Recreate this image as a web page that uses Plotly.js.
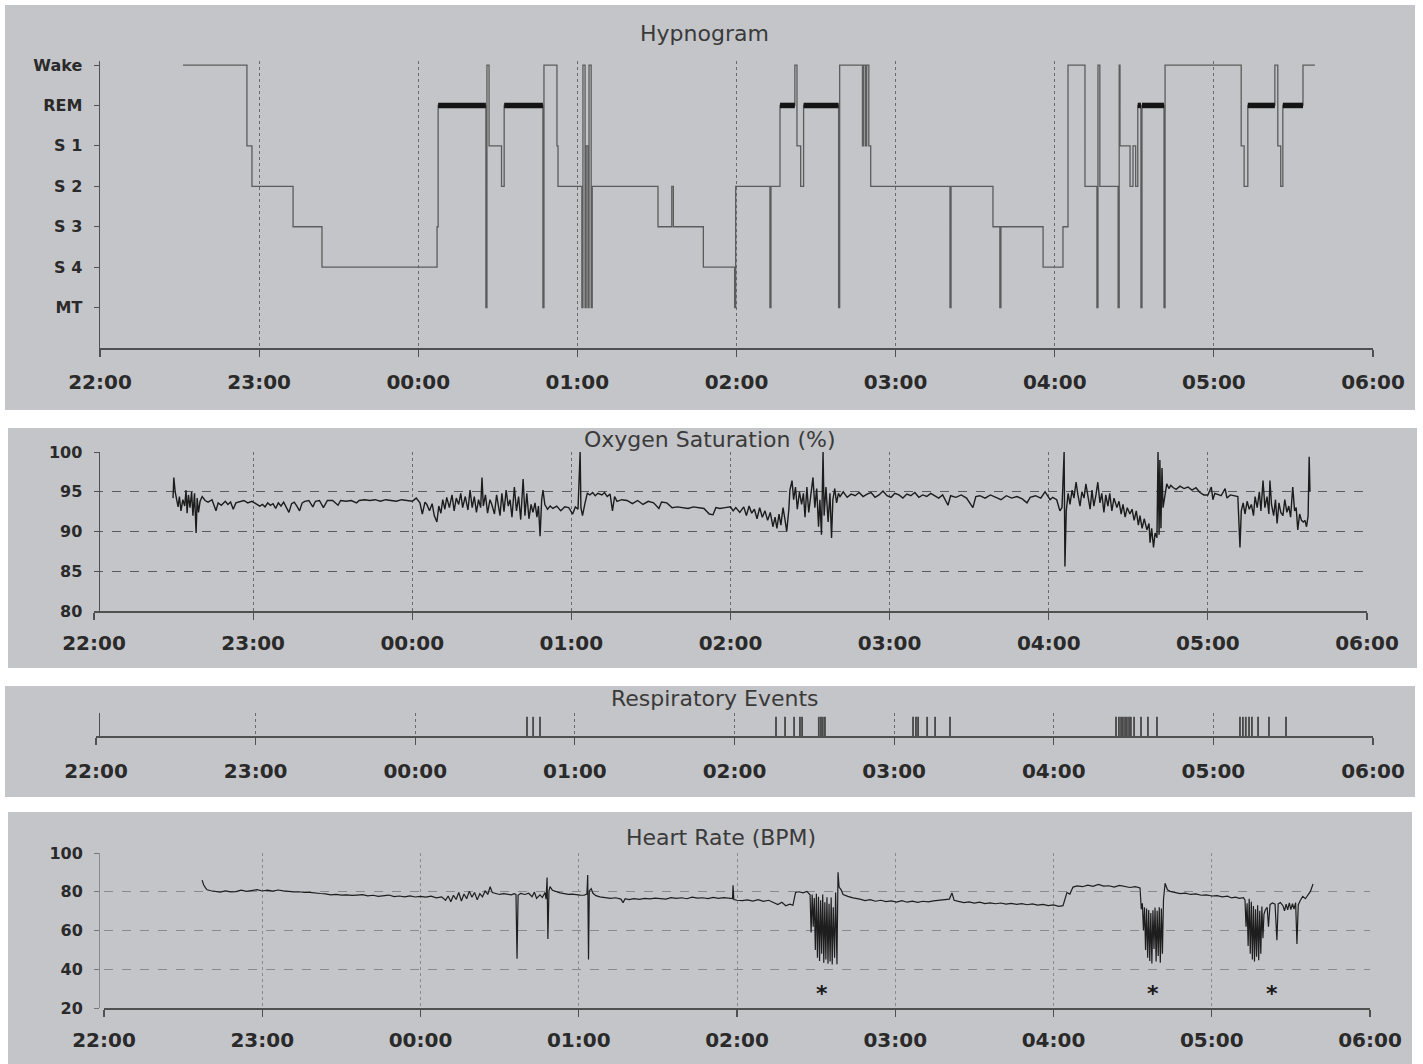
<!DOCTYPE html>
<html><head><meta charset="utf-8">
<script src="https://cdn.plot.ly/plotly-3.0.1.min.js"></script>
<style>html,body{margin:0;padding:0;background:#fff}#chart{width:1423px;height:1064px}</style>
</head><body><div id="chart"></div>
<script>
// ---------- data (time in minutes after 22:00) ----------
const hourTicks = [0,60,120,180,240,300,360,420,480];
const hourLabels = ["22:00","23:00","00:00","01:00","02:00","03:00","04:00","05:00","06:00"];

const stageLabels = ["MT","S 4","S 3","S 2","S 1","REM","Wake"];

const hypnoTime = [31.3,55.4,57.3,72.8,83.7,127.1,127.5,145.5,145.9,146.7,151.4,152.4,167.0,167.4,172.3,172.7,181.7,182.1,182.9,183.3,184.0,184.4,185.2,185.6,210.4,215.6,216.2,227.5,239.3,239.7,252.6,253.0,256.4,262.0,262.8,264.2,265.3,278.5,278.9,287.5,288.0,288.7,289.1,289.9,290.6,320.5,320.9,336.7,339.3,339.7,355.6,363.1,365.0,371.4,375.9,376.3,377.0,383.9,384.3,384.6,388.4,389.5,390.5,391.3,392.5,392.9,401.2,401.6,430.3,431.4,432.8,443.0,444.1,445.2,446.0,453.6,458.1];
const hypnoStage = ["Wake","S 1","S 2","S 3","S 4","S 3","REM","MT","Wake","S 1","S 2","REM","MT","Wake","S 1","S 2","MT","Wake","MT","S 1","MT","Wake","MT","S 2","S 3","S 2","S 3","S 4","MT","S 2","MT","S 2","REM","Wake","S 1","S 2","REM","MT","Wake","S 1","Wake","S 1","Wake","S 1","S 2","MT","S 2","S 3","MT","S 3","S 4","S 3","Wake","S 2","MT","Wake","S 2","MT","Wake","S 1","S 2","S 1","S 2","REM","MT","REM","MT","Wake","S 1","S 2","REM","Wake","S 1","S 2","REM","Wake","Wake"];

const spo2Readings = [[29.8,94.2],[30.1,96.8],[30.6,95.0],[31.2,94.0],[31.7,93.1],[32.2,94.4],[32.8,92.6],[33.5,94.0],[34.2,93.2],[34.7,95.2],[35.1,92.3],[35.6,94.6],[36.2,93.0],[36.8,95.0],[37.3,92.0],[37.9,94.8],[38.5,89.8],[38.9,94.2],[39.4,92.4],[40.0,93.8],[40.8,94.4],[41.9,93.9],[43.0,93.7],[44.5,94.0],[45.5,93.2],[46.0,92.6],[46.8,93.6],[48.0,93.3],[49.5,93.8],[50.5,93.4],[51.5,93.7],[52.5,92.8],[53.5,93.6],[55.0,93.8],[56.5,93.9],[58.0,93.6],[59.5,93.8],[61.0,93.5],[62.5,93.2],[63.5,93.4],[64.5,93.1],[65.5,93.6],[66.5,93.3],[67.5,93.5],[68.5,92.9],[69.5,93.6],[70.5,93.2],[71.5,93.7],[72.5,93.1],[73.5,92.4],[74.5,93.5],[75.5,93.7],[76.5,93.2],[77.5,92.6],[78.5,93.6],[79.5,93.8],[81,93.9],[82.5,93.1],[83.5,93.8],[85,93.9],[86.5,93.0],[88,93.9],[90,93.9],[92,93.3],[93,93.9],[95,93.8],[97,93.9],[99,93.6],[100,93.9],[102,94.0],[104,93.9],[106,94.0],[108,93.8],[110,94.0],[112,93.9],[114,93.8],[116,94.0],[118,93.9],[120,93.8],[121.5,94.2],[122.9,93.6],[123.8,92.2],[124.8,93.7],[125.5,93.4],[126.5,92.6],[127.5,93.5],[128.3,92.0],[129.3,91.2],[130.0,93.2],[130.8,92.3],[131.5,94.0],[132.3,92.8],[133,94.3],[134,93.0],[135,94.6],[135.8,92.6],[136.6,94.2],[137.5,93.4],[138.3,94.8],[139,93.0],[140,94.4],[141,92.7],[141.8,95.2],[142.6,93.0],[143.4,94.4],[144.2,92.4],[145.0,94.0],[145.8,93.0],[146.3,96.8],[146.8,93.2],[147.6,94.6],[148.4,92.3],[149.3,94.0],[150.0,93.4],[151,92.2],[151.8,94.6],[152.6,93.0],[153.1,92.0],[153.8,94.8],[154.6,92.5],[155.4,95.2],[156.2,93.2],[156.9,94.0],[157.6,91.8],[158.5,95.6],[159.3,92.6],[160.1,94.4],[160.9,91.5],[161.8,96.6],[162.5,92.0],[163.2,94.8],[164.0,91.6],[164.8,93.4],[165.5,92.4],[166.3,93.6],[167.0,91.8],[167.6,93.2],[168.2,89.4],[168.8,94.0],[169.3,95.2],[170.0,93.4],[171,92.8],[172,93.2],[173,92.9],[174.5,93.2],[176,92.6],[177.5,93.1],[179,93.0],[180.5,92.2],[181.5,93.1],[182.5,92.8],[183.3,100],[183.6,93.0],[184.2,92.0],[185.1,93.5],[186.0,94.8],[187.0,94.6],[188.0,94.9],[189.0,94.5],[190.0,94.8],[191.5,94.6],[192.5,94.9],[193.5,94.4],[194.6,94.7],[195.5,92.6],[196.3,94.4],[197.2,93.8],[199,94.0],[201,93.9],[203,93.5],[205,93.9],[207,93.4],[209,93.8],[211,93.6],[213,92.9],[214,93.7],[216,93.6],[218,93.0],[220,93.1],[222,93.0],[224,92.9],[226,93.1],[228,93.0],[230,92.9],[232,92.2],[233.4,92.1],[234.5,93.0],[236,92.9],[238,93.0],[240,93.1],[241,92.6],[242,93.0],[243.5,92.4],[245,93.1],[246,92.0],[247,93.2],[248,92.3],[249,92.8],[250,91.6],[251,93.0],[252,91.8],[253,92.6],[254,91.4],[255,92.4],[256,90.6],[256.8,91.8],[257.5,90.4],[258.3,92.2],[259,90.8],[259.8,93.0],[260.5,91.6],[261.2,90.0],[262.0,92.8],[262.4,95.2],[263.2,96.4],[263.8,94.0],[264.5,95.6],[265.2,92.8],[266.0,95.0],[266.8,93.4],[267.5,94.8],[268.1,91.8],[268.8,95.6],[269.5,92.4],[270.3,94.6],[271.1,96.8],[271.8,93.0],[272.5,95.4],[273.2,90.6],[273.7,94.0],[274.3,89.6],[274.9,100],[275.3,92.0],[276.0,95.6],[276.8,91.2],[277.5,94.8],[278.1,89.2],[278.6,94.0],[279.3,95.4],[280.0,93.6],[280.7,94.8],[281.3,94.4],[282.5,95.0],[284,94.3],[285.5,94.7],[287,94.5],[288.5,94.9],[290,94.4],[291.5,94.7],[293,94.9],[294.5,94.3],[296,94.6],[297.5,95.1],[299,94.5],[300.5,94.3],[302,94.8],[303.5,94.6],[305,94.2],[306.5,94.7],[308,94.5],[309.5,94.9],[311,94.3],[312.5,94.6],[314,94.4],[315.5,94.8],[317,94.5],[318.5,94.2],[320,94.6],[322,93.3],[323,94.5],[325,94.3],[327,94.6],[329,94.2],[331.4,93.0],[332.5,94.4],[334,94.5],[336,94.2],[338,94.6],[340,94.3],[342,94.0],[344,94.5],[346,94.2],[348,94.4],[350,94.1],[351.8,93.6],[353,94.3],[355,94.5],[357,94.2],[358.6,95.0],[359.5,94.6],[360.5,94.0],[361.5,94.3],[363,94.0],[364.2,92.6],[365.0,93.0],[365.8,100],[366.1,85.6],[366.6,92.6],[367.3,94.8],[368.0,93.4],[368.8,95.2],[369.5,94.2],[370.3,96.2],[371,94.6],[371.8,93.2],[372.5,95.0],[373.3,94.2],[374,96.0],[374.8,94.4],[375.6,92.8],[376.3,95.2],[377,93.2],[377.8,94.6],[378.5,96.2],[379.3,93.6],[380,94.8],[380.8,92.4],[381.5,94.6],[382.3,93.2],[383,94.8],[383.8,92.6],[384.6,94.2],[385.7,93.0],[386.5,93.8],[387.3,92.2],[388.0,93.4],[388.8,91.8],[389.6,93.0],[390.6,92.2],[391.4,92.8],[392.2,91.4],[393.0,92.6],[393.8,90.8],[394.4,92.0],[395.2,90.4],[396.0,91.6],[397.0,90.2],[397.8,91.0],[398.2,88.6],[398.8,90.4],[399.5,88.0],[400.1,89.8],[400.8,89.2],[401.2,100],[401.6,89.6],[401.9,99.0],[402.3,90.4],[402.7,98.0],[403.1,93.0],[403.8,94.6],[404.5,96.0],[405.3,95.4],[406,95.8],[407,95.5],[408,95.3],[409.5,95.7],[411,95.4],[412.5,95.6],[414,95.2],[415.5,95.5],[417,94.9],[418.5,94.6],[420,94.6],[421.3,95.6],[421.9,94.0],[422.6,94.8],[424,94.6],[425,94.5],[426.5,95.4],[427.2,94.2],[428.5,94.6],[430,94.5],[431.3,94.4],[432.1,88.0],[432.6,92.6],[433.3,93.6],[434.0,92.2],[434.8,93.8],[435.6,92.8],[436.4,93.4],[437.2,92.0],[437.8,94.4],[438.6,93.0],[439.4,95.0],[440.0,92.6],[440.8,96.4],[441.5,93.0],[442.3,94.4],[443.0,92.2],[443.4,96.4],[444.0,93.4],[444.8,92.0],[445.5,94.0],[446.1,91.0],[446.8,93.6],[447.5,92.4],[448.3,92.0],[449.0,94.0],[449.8,92.4],[450.5,93.2],[451.2,91.8],[452.0,95.6],[452.7,92.6],[453.3,93.0],[453.9,90.2],[454.6,92.2],[455.3,91.4],[456.0,91.2],[456.6,91.4],[457.2,90.6],[457.8,92.0],[458.2,99.4],[458.5,95.0]];

const respEventTime = [162.0,164.3,166.9,255.6,259.0,262.4,264.6,265.4,271.7,272.5,273.2,274.0,307.1,308.2,309.0,312.4,315.4,321.0,383.4,384.5,385.3,386.0,386.8,387.5,388.3,389.0,390.2,392.8,395.4,398.8,430.0,431.1,432.2,433.4,434.5,436.8,440.9,447.3];

const hrReadings = [[37.2,86],[37.8,83.5],[38.5,82],[39.1,81],[40.5,80.5],[42,80.2],[44,79.8],[46,80.4],[48,79.9],[50,80.1],[52,80.8],[54,80.2],[56,80.6],[58,81.1],[60,80.4],[62,80.8],[64,80.3],[66,80.9],[68,80.5],[70,80.1],[72,79.9],[74,80.0],[76,79.6],[78,79.7],[80,79.3],[82,79.1],[84,78.9],[86,78.4],[88,78.6],[90,78.3],[92,78.4],[94,78.1],[96,78.3],[98,78.5],[100,77.9],[102,78.2],[104,77.6],[106,77.8],[108,78.3],[110,77.5],[112,77.8],[114,77.4],[116,77.9],[118,77.3],[120,77.6],[122,77.2],[124,77.7],[126,76.9],[128,77.4],[129.5,75.6],[130.5,77.8],[131.5,74.8],[132.5,78.2],[133.5,76.0],[134.5,79.6],[135.5,75.2],[136.5,78.8],[137.5,76.4],[138.5,80.2],[139.5,77.2],[140.5,79.6],[141.5,75.8],[142.5,79.0],[143.5,77.4],[144.5,80.4],[145.5,78.6],[146.4,82.6],[147.2,79.6],[148.5,79.2],[150,78.6],[151.5,79.0],[153,78.7],[154.5,78.4],[155.5,79.0],[156.2,78.6],[156.6,45.4],[157.0,78.2],[158,79.2],[159.6,78.6],[161,79.2],[162.3,77.4],[163.2,79.8],[164,76.6],[165.3,78.4],[166.2,77.0],[167.2,79.6],[167.6,76.2],[168.0,87.4],[168.3,55.6],[168.7,80.4],[169.1,82.6],[170,80.8],[171.5,80.0],[172.9,79.4],[174.5,79.0],[176,78.6],[177.5,78.8],[179,78.4],[180.5,78.3],[182,78.2],[183.1,78.8],[183.4,88.6],[183.7,45.0],[184.0,80.4],[184.7,81.6],[185.4,79.2],[186.5,78.0],[188,77.4],[190,76.8],[192,76.6],[194,76.9],[196,76.2],[196.8,74.4],[197.6,76.4],[199,75.9],[201,76.4],[203,76.1],[205,76.6],[207,76.3],[209,76.7],[211,76.5],[213,76.2],[215,77.0],[217,76.6],[219,76.9],[221,76.4],[223,77.2],[225,76.7],[227,76.9],[229,76.5],[231,77.1],[233,76.6],[235,77.0],[237,76.8],[238.3,76.5],[238.5,83.4],[238.8,76.0],[240,75.6],[242,75.4],[244,75.8],[246,75.2],[248,75.9],[250,75.0],[252,75.6],[254,74.4],[255.5,73.4],[257,74.6],[258.5,72.8],[260,73.6],[261.2,73.0],[262.2,79.6],[263.5,80.0],[265,79.4],[266.5,80.2],[267.7,78.4],[268.1,59.0],[268.5,78.6],[268.9,62.0],[269.3,76.8],[269.7,50.0],[270.1,79.0],[270.5,46.0],[270.9,77.4],[271.3,44.2],[271.7,75.6],[272.1,48.0],[272.5,78.6],[272.9,43.4],[273.3,74.6],[273.7,45.0],[274.1,77.2],[274.5,42.8],[274.9,73.8],[275.3,44.0],[275.7,77.0],[276.1,42.4],[276.5,72.0],[277.0,46.0],[277.4,79.6],[277.9,42.6],[278.3,90.0],[278.7,82.4],[279.5,81.0],[280.2,78.6],[282,77.6],[284,76.8],[286.6,76.2],[288.5,75.4],[290.5,75.9],[292.5,75.1],[294.5,75.6],[296.5,74.9],[298.5,75.3],[300.5,74.7],[302.5,75.4],[304.5,74.6],[306.5,75.2],[308.5,74.5],[310.5,75.1],[312.5,74.8],[314.5,75.3],[316.5,75.6],[318.5,76.0],[320.5,76.2],[321.5,79.4],[322.3,75.6],[324,75.0],[326,74.4],[328,74.8],[330,74.1],[332,74.6],[334,73.9],[336,74.3],[338,73.8],[340,74.2],[342,73.6],[344,74.0],[346,73.5],[348,73.9],[350,73.3],[352,73.7],[354,73.1],[356,73.5],[358,72.8],[360,73.2],[362,72.5],[363.6,72.8],[364.5,76.4],[365.1,79.6],[366.2,78.8],[367.4,82.4],[369,83.0],[371,82.6],[373,83.4],[375,82.8],[377,83.8],[379,82.9],[381,83.1],[383,82.4],[385,83.3],[387,82.6],[389,82.2],[391,82.6],[392.8,82.0],[393.3,71.0],[393.7,74.0],[394.1,60.0],[394.5,72.0],[394.9,50.0],[395.3,71.4],[395.7,46.0],[396.1,70.6],[396.5,44.2],[396.9,69.0],[397.3,43.0],[397.7,70.4],[398.1,50.4],[398.5,71.8],[398.9,44.0],[399.3,70.2],[399.7,46.8],[400.1,72.0],[400.5,43.4],[400.9,71.4],[401.3,48.0],[401.7,76.0],[402.3,84.4],[403.2,81.0],[404.2,80.2],[406,79.6],[408,79.0],[410,79.3],[412,78.6],[414,78.9],[416,78.2],[418,78.4],[420,77.8],[422,78.0],[424,77.4],[426,77.7],[427.5,76.8],[429,77.2],[430.5,76.6],[432,77.0],[432.6,75.8],[433.0,62.0],[433.4,74.0],[433.8,52.0],[434.2,76.4],[434.6,48.0],[435.0,74.8],[435.4,45.0],[435.8,72.6],[436.2,44.0],[436.6,71.0],[437.0,46.4],[437.4,73.0],[437.8,44.6],[438.2,70.2],[438.6,48.0],[439.0,72.4],[439.4,56.0],[439.8,68.4],[440.3,70.6],[441.0,72.0],[441.5,62.0],[442.1,73.4],[443.0,74.2],[444.0,73.6],[444.7,55.0],[445.2,73.8],[446.0,74.4],[447.0,72.8],[447.6,70.2],[448.2,73.6],[448.8,70.6],[449.4,74.2],[450.0,70.8],[450.6,73.8],[451.2,71.0],[451.8,74.4],[452.3,53.0],[452.8,73.2],[453.5,75.4],[454.5,77.6],[455.5,76.4],[456.5,78.8],[457.4,80.2],[458.4,84.0]];

const hrMarkTime = [272.2,397.7,442.9];
const hrMarkLabel = ["*","*","*"];

const titles = ["Hypnogram","Oxygen Saturation (%)","Respiratory Events","Heart Rate (BPM)"];

// ---------- geometry helpers ----------
const W = 1423, H = 1064;
const fx = p => p / W;
const fy = p => 1 - p / H;

const hypnoLevel = hypnoStage.map(s => stageLabels.indexOf(s));
const remX = [], remY = [];
for (let i = 0; i < hypnoStage.length - 1; i++) {
  if (hypnoStage[i] === "REM") { remX.push(hypnoTime[i], hypnoTime[i+1], null); remY.push(5, 5, null); }
}

const tickFont = {family: "DejaVu Sans, Arial, sans-serif", size: 20, color: "#2a2a2a", weight: "bold"};
const yFont = {family: "DejaVu Sans, Arial, sans-serif", size: 16, color: "#2a2a2a", weight: "bold"};
const titleFont = {family: "DejaVu Sans, Arial, sans-serif", size: 22, color: "#3a3a3a"};

function xAxis(domL, domR, anchor, standoff, gridcolor) {
  return {
    domain: [fx(domL), fx(domR)], anchor: anchor, range: [0, 480],
    tickmode: "array", tickvals: hourTicks, ticktext: hourLabels,
    showgrid: true, griddash: "dot", gridcolor: gridcolor, gridwidth: 1,
    showline: true, linecolor: "#505050", linewidth: 1.5,
    ticks: "outside", ticklen: 7, tickcolor: "#505050", tickwidth: 1.2,
    tickfont: tickFont, ticklabelstandoff: standoff, zeroline: false, fixedrange: true
  };
}

const traces = [
  {x: hypnoTime, y: hypnoLevel, xaxis: "x", yaxis: "y", type: "scatter", mode: "lines",
   line: {shape: "hv", color: "#5c5c5c", width: 1.3}, cliponaxis: false, hoverinfo: "skip"},
  {x: remX, y: remY, xaxis: "x", yaxis: "y", type: "scatter", mode: "lines",
   line: {color: "#141414", width: 5.5}, hoverinfo: "skip"},
  {x: spo2Readings.map(p => p[0]), y: spo2Readings.map(p => p[1]), xaxis: "x2", yaxis: "y2",
   type: "scatter", mode: "lines", line: {color: "#1c1c1c", width: 1.4}, cliponaxis: false, hoverinfo: "skip"},
  {x: respEventTime, y: respEventTime.map(() => 1), xaxis: "x3", yaxis: "y3", type: "bar",
   width: 0.7, marker: {color: "#4a4a4a", line: {width: 0}}, hoverinfo: "skip"},
  {x: hrReadings.map(p => p[0]), y: hrReadings.map(p => p[1]), xaxis: "x4", yaxis: "y4",
   type: "scatter", mode: "lines", line: {color: "#1e1e1e", width: 1.2}, cliponaxis: false, hoverinfo: "skip"}
];

const panelRects = [[5,5,1415,410],[8,428,1417,668],[5,686,1415,797],[8,812,1412,1064]];
const shapes = panelRects.map(r => ({type: "rect", xref: "paper", yref: "paper", layer: "below",
  x0: fx(r[0]), x1: fx(r[2]), y0: fy(r[3]), y1: fy(r[1]), fillcolor: "#c4c5c9", line: {width: 0}}));

const titlePos = [[704,34],[710,440],[715,698],[721,837]];
const annotations = titles.map((t, i) => ({text: t, xref: "paper", yref: "paper",
  x: fx(titlePos[i][0]), y: fy(titlePos[i][1]), xanchor: "center", yanchor: "middle",
  showarrow: false, font: titleFont}));
hrMarkTime.forEach((t, i) => annotations.push({text: hrMarkLabel[i], xref: "x4", yref: "y4",
  x: t, y: 27.5, xanchor: "center", yanchor: "middle", showarrow: false,
  font: {family: "DejaVu Sans, Arial, sans-serif", size: 22, color: "#1a1a1a", weight: "bold"}}));

const layout = {
  width: W, height: H, margin: {l: 0, r: 0, t: 0, b: 0},
  paper_bgcolor: "#ffffff", plot_bgcolor: "rgba(0,0,0,0)", showlegend: false,
  shapes: shapes, annotations: annotations,
  xaxis: xAxis(100, 1373, "y", 8, "#6a6a6a"),
  yaxis: {domain: [fy(348), fy(61)], range: [-1, 6.1], tickmode: "array",
    tickvals: [0,1,2,3,4,5,6], ticktext: stageLabels, showgrid: false, zeroline: false,
    showline: true, linecolor: "#505050", linewidth: 1.5, ticks: "outside", ticklen: 5,
    tickcolor: "#505050", tickfont: yFont, ticklabelstandoff: 8, fixedrange: true},
  xaxis2: xAxis(94, 1367, "y2", 6, "#6a6a6a"),
  yaxis2: {domain: [fy(611), fy(452)], range: [80, 100], tickmode: "array",
    tickvals: [80,85,90,95,100], showgrid: true, griddash: "dash", gridcolor: "#5a5a5a",
    gridwidth: 1, zeroline: false, showline: true, linecolor: "#505050", linewidth: 1.5,
    ticks: "outside", ticklen: 5, tickcolor: "#505050", tickfont: yFont, ticklabelstandoff: 8, fixedrange: true},
  xaxis3: xAxis(96, 1373, "y3", 9, "#6a6a6a"),
  yaxis3: {domain: [fy(736), fy(713)], range: [0, 1.2], showticklabels: false, showgrid: false,
    zeroline: false, showline: true, linecolor: "#505050", linewidth: 1.5, ticks: "", fixedrange: true},
  xaxis4: xAxis(104, 1370, "y4", 6, "#8a8a8a"),
  yaxis4: {domain: [fy(1008), fy(853)], range: [20, 100], tickmode: "array",
    tickvals: [20,40,60,80,100], showgrid: true, griddash: "dash", gridcolor: "#8a8a8a",
    gridwidth: 1, zeroline: false, showline: true, linecolor: "#8a8a8a", linewidth: 1,
    ticks: "outside", ticklen: 5, tickcolor: "#777", tickfont: yFont, ticklabelstandoff: 8, fixedrange: true}
};

Plotly.newPlot("chart", traces, layout, {displayModeBar: false, staticPlot: true});
</script>
</body></html>
